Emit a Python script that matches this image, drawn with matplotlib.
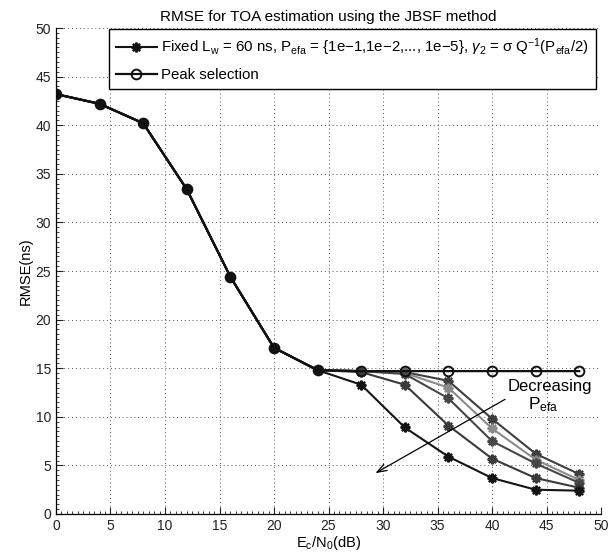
import matplotlib
matplotlib.use("Agg")
import matplotlib.pyplot as plt
from matplotlib.ticker import MultipleLocator

plt.rcParams["font.family"] = ["Liberation Sans", "DejaVu Sans"]
plt.rcParams["mathtext.fontset"] = "custom"
plt.rcParams["mathtext.rm"] = "Liberation Sans"
plt.rcParams["mathtext.it"] = "Liberation Sans:italic"
plt.rcParams["mathtext.sf"] = "Liberation Sans"

SNR_DB = [0, 4, 8, 12, 16, 20, 24, 28, 32, 36, 40, 44, 48]
COMMON = [43.2, 42.2, 40.2, 33.4, 24.4, 17.1, 14.8]

# tails from 28 dB on, P_efa = 1e-1 ... 1e-5
PEFA_TAILS = [
    [13.3, 8.9, 5.9, 3.7, 2.5, 2.4],
    [14.6, 13.3, 9.1, 5.7, 3.7, 2.7],
    [14.7, 14.4, 11.9, 7.5, 5.2, 3.2],
    [14.7, 14.5, 13.0, 8.8, 5.6, 3.5],
    [14.7, 14.6, 13.7, 9.8, 6.2, 4.1],
]
PEAK_TAIL = [14.7, 14.7, 14.7, 14.7, 14.7, 14.7]

PEFA_COLORS = ["#141414", "#3a3a3a", "#474747", "#8a8a8a", "#3f3f3f"]

LEGEND_FIXED = (r"Fixed L$_\mathrm{w}$ = 60 ns, P$_\mathrm{efa}$ = {1e$-$1,1e$-$2,..., 1e$-$5}, "
                r"$\gamma_2$ = σ Q$^{-1}$(P$_\mathrm{efa}$/2)")
LEGEND_PEAK = "Peak selection"

fig = plt.figure(figsize=(6.08, 5.57), dpi=100)
ax = fig.add_axes([0.0921, 0.0772, 0.8964, 0.8725])

asterisk = (8, 2, 0)
handles = []
for tail, color in reversed(list(zip(PEFA_TAILS, PEFA_COLORS))):
    h, = ax.plot(SNR_DB, COMMON + tail, color=color, linewidth=1.5,
                 marker=asterisk, markersize=7, markeredgewidth=1.6,
                 markeredgecolor=color, zorder=2)
    handles.append(h)
fixed_handle = handles[-1]

peak_handle, = ax.plot(SNR_DB, COMMON + PEAK_TAIL, color="#111111", linewidth=1.6,
                       marker="o", markersize=7, markerfacecolor="none",
                       markeredgewidth=1.4, zorder=3)

ax.set_xlim(0, 50)
ax.set_ylim(0, 50)
ax.xaxis.set_major_locator(MultipleLocator(5))
ax.yaxis.set_major_locator(MultipleLocator(5))
ax.xaxis.set_minor_locator(MultipleLocator(0.5))
ax.yaxis.set_minor_locator(MultipleLocator(0.5))
ax.tick_params(which="both", direction="in", labelsize=10, colors="#222222")
ax.tick_params(which="major", length=5, width=0.8)
ax.tick_params(which="minor", length=2, width=0.6)
for side in ("top", "right"):
    ax.spines[side].set_visible(False)
for side in ("left", "bottom"):
    ax.spines[side].set_linewidth(0.9)
ax.grid(True, which="major", linestyle=(0, (1, 3)), color="#555555", linewidth=0.7)
ax.set_axisbelow(True)

ax.set_xlabel(r"E$_\mathrm{c}$/N$_0$(dB)", fontsize=10.5, labelpad=1)
ax.set_ylabel("RMSE(ns)", fontsize=10.5, labelpad=2)
ax.set_title("RMSE for TOA estimation using the JBSF method", fontsize=11, pad=5)

leg = ax.legend([fixed_handle, peak_handle], [LEGEND_FIXED, LEGEND_PEAK],
                loc="upper right", bbox_to_anchor=(0.99, 0.997), fontsize=10.8,
                frameon=True, fancybox=False, framealpha=1, edgecolor="black",
                handlelength=2.7, borderpad=0.45, labelspacing=0.7,
                handletextpad=0.3, borderaxespad=0)
leg.get_frame().set_linewidth(1.0)

ax.annotate("", xy=(29.3, 4.2), xytext=(41.2, 11.8),
            arrowprops=dict(arrowstyle="->, head_length=0.7, head_width=0.25",
                            color="black", lw=0.9, shrinkA=0, shrinkB=0))
ax.text(45.3, 13.1, "Decreasing", fontsize=12, ha="center", va="center")
ax.text(44.7, 11.2, r"P$_\mathrm{efa}$", fontsize=12.5, ha="center", va="center")

fig.savefig("out.png", dpi=100)
